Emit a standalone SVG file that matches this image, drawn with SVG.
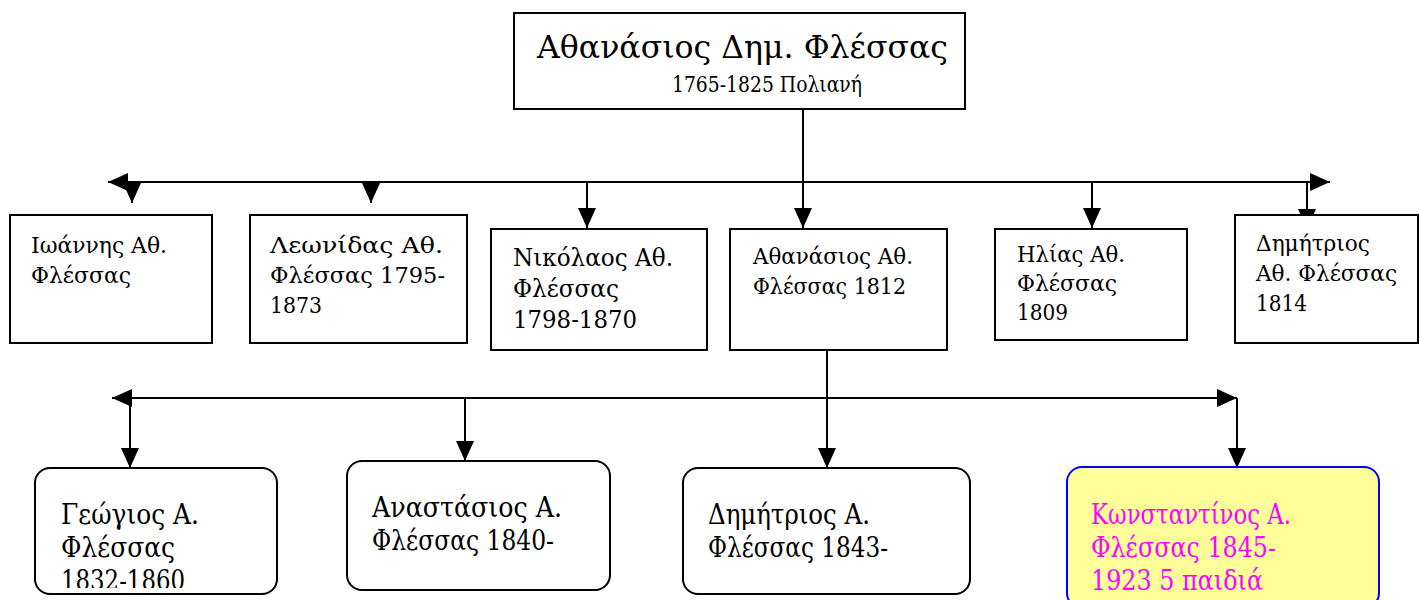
<svg xmlns="http://www.w3.org/2000/svg" width="1420" height="600" viewBox="0 0 1420 600">
<style>
.box{fill:#fff;stroke:#000;stroke-width:2}
.rbox{fill:#fff;stroke:#000;stroke-width:2}
.t{font-family:"DejaVu Serif","Liberation Serif",serif;fill:#000}
.s20{font-size:22px}
.s24{font-size:25px}
.s28{font-size:27px}
.m{fill:#ff00ff}
.line{stroke:#000;stroke-width:2;fill:none}
</style>
<defs>
<marker id="ah" markerUnits="userSpaceOnUse" markerWidth="20" markerHeight="18" refX="20" refY="9" orient="auto-start-reverse" viewBox="0 0 20 18">
<path d="M0,0 L20,9 L0,18 Z" fill="#000"/>
</marker>
<clipPath id="cg"><rect x="36" y="469" width="240" height="119"/></clipPath>
</defs>
<rect width="1420" height="600" fill="#fff"/>
<g id="connectors">
<line class="line" x1="803" y1="109" x2="803" y2="228" marker-end="url(#ah)"/>
<line class="line" x1="108" y1="182" x2="1330" y2="182" marker-start="url(#ah)" marker-end="url(#ah)"/>
<line class="line" x1="132" y1="182" x2="132" y2="203" marker-end="url(#ah)"/>
<line class="line" x1="371" y1="182" x2="371" y2="203" marker-end="url(#ah)"/>
<line class="line" x1="587" y1="182" x2="587" y2="228" marker-end="url(#ah)"/>
<line class="line" x1="1092" y1="182" x2="1092" y2="228" marker-end="url(#ah)"/>
<line class="line" x1="1307" y1="182" x2="1307" y2="229" marker-end="url(#ah)"/>
<line class="line" x1="827" y1="350" x2="827" y2="468" marker-end="url(#ah)"/>
<line class="line" x1="112" y1="398" x2="1237" y2="398" marker-start="url(#ah)" marker-end="url(#ah)"/>
<line class="line" x1="130" y1="398" x2="130" y2="468" marker-end="url(#ah)"/>
<line class="line" x1="465" y1="398" x2="465" y2="461" marker-end="url(#ah)"/>
<line class="line" x1="1237" y1="398" x2="1237" y2="468" marker-end="url(#ah)"/>
</g>
<g id="root">
<rect class="box" x="514" y="13" width="451" height="96"/>
<text class="t" x="537" y="58" font-size="32" textLength="411" lengthAdjust="spacingAndGlyphs">Αθανάσιος Δημ. Φλέσσας</text>
<text class="t" x="672" y="92" font-size="22" textLength="190" lengthAdjust="spacingAndGlyphs">1765-1825 Πολιανή</text>
</g>
<g id="ioannis">
<rect class="box" x="10" y="215" width="202" height="128"/>
<text class="t s20" x="31" y="253" textLength="136" lengthAdjust="spacingAndGlyphs">Ιωάννης Αθ.</text>
<text class="t s20" x="31" y="283" textLength="100" lengthAdjust="spacingAndGlyphs">Φλέσσας</text>
</g>
<g id="leonidas">
<rect class="box" x="250" y="215" width="217" height="128"/>
<text class="t s20" x="270" y="253" textLength="173" lengthAdjust="spacingAndGlyphs">Λεωνίδας Αθ.</text>
<text class="t s20" x="270" y="283" textLength="175" lengthAdjust="spacingAndGlyphs">Φλέσσας 1795-</text>
<text class="t s20" x="270" y="313" textLength="52" lengthAdjust="spacingAndGlyphs">1873</text>
</g>
<g id="nikolaos">
<rect class="box" x="491" y="229" width="216" height="121"/>
<text class="t s24" x="513" y="266" textLength="160" lengthAdjust="spacingAndGlyphs">Νικόλαος Αθ.</text>
<text class="t s24" x="513" y="297" textLength="106" lengthAdjust="spacingAndGlyphs">Φλέσσας</text>
<text class="t s24" x="513" y="328" textLength="124" lengthAdjust="spacingAndGlyphs">1798-1870</text>
</g>
<g id="athanasios">
<rect class="box" x="730" y="229" width="217" height="121"/>
<text class="t s20" x="753" y="264" textLength="160" lengthAdjust="spacingAndGlyphs">Αθανάσιος Αθ.</text>
<text class="t s20" x="753" y="294" textLength="153" lengthAdjust="spacingAndGlyphs">Φλέσσας 1812</text>
</g>
<g id="ilias">
<rect class="box" x="995" y="229" width="192" height="111"/>
<text class="t s20" x="1017" y="262" textLength="108" lengthAdjust="spacingAndGlyphs">Ηλίας Αθ.</text>
<text class="t s20" x="1017" y="291" textLength="100" lengthAdjust="spacingAndGlyphs">Φλέσσας</text>
<text class="t s20" x="1017" y="320" textLength="51" lengthAdjust="spacingAndGlyphs">1809</text>
</g>
<g id="dimitrios">
<rect class="box" x="1235" y="215" width="183" height="128"/>
<text class="t s20" x="1256" y="251" textLength="114" lengthAdjust="spacingAndGlyphs">Δημήτριος</text>
<text class="t s20" x="1256" y="281" textLength="141" lengthAdjust="spacingAndGlyphs">Αθ. Φλέσσας</text>
<text class="t s20" x="1256" y="311" textLength="51" lengthAdjust="spacingAndGlyphs">1814</text>
</g>
<g id="georgios">
<rect class="rbox" x="35" y="468" width="242" height="126" rx="15"/>
<g clip-path="url(#cg)">
<text class="t s28" x="61" y="524" textLength="138" lengthAdjust="spacingAndGlyphs">Γεώγιος Α.</text>
<text class="t s28" x="61" y="557" textLength="114" lengthAdjust="spacingAndGlyphs">Φλέσσας</text>
<text class="t s28" x="61" y="590" textLength="124" lengthAdjust="spacingAndGlyphs">1832-1860</text>
</g>
</g>
<g id="anastasios">
<rect class="rbox" x="347" y="461" width="263" height="129" rx="15"/>
<text class="t s28" x="372" y="517" textLength="190" lengthAdjust="spacingAndGlyphs">Αναστάσιος Α.</text>
<text class="t s28" x="372" y="550" textLength="182" lengthAdjust="spacingAndGlyphs">Φλέσσας 1840-</text>
</g>
<g id="dimitriosA">
<rect class="rbox" x="683" y="468" width="287" height="126" rx="15"/>
<text class="t s28" x="708" y="524" textLength="162" lengthAdjust="spacingAndGlyphs">Δημήτριος Α.</text>
<text class="t s28" x="708" y="557" textLength="180" lengthAdjust="spacingAndGlyphs">Φλέσσας 1843-</text>
</g>
<g id="konstantinos">
<rect x="1067" y="467" width="312" height="141" rx="15" fill="#ffff99" stroke="#0000ff" stroke-width="2"/>
<text class="t s28 m" x="1091" y="524" textLength="200" lengthAdjust="spacingAndGlyphs">Κωνσταντίνος Α.</text>
<text class="t s28 m" x="1091" y="557" textLength="185" lengthAdjust="spacingAndGlyphs">Φλέσσας 1845-</text>
<text class="t s28 m" x="1091" y="590" textLength="172" lengthAdjust="spacingAndGlyphs">1923 5 παιδιά</text>
</g>
</svg>
